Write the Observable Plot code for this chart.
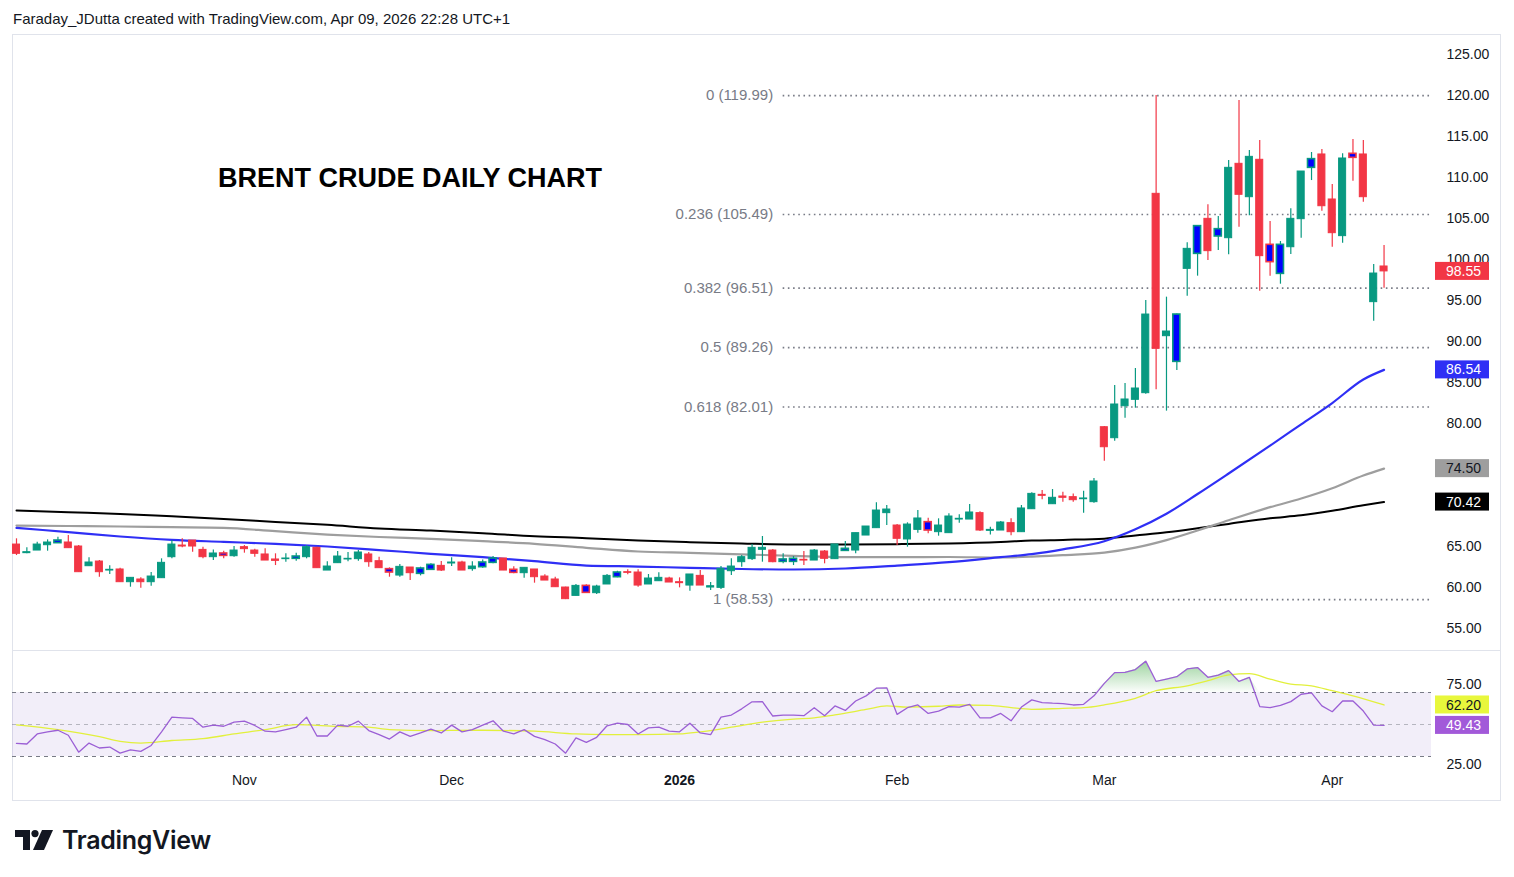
<!DOCTYPE html>
<html>
<head>
<meta charset="utf-8">
<script src="https://cdn.jsdelivr.net/npm/d3@7"></script>
<script src="https://cdn.jsdelivr.net/npm/@observablehq/plot@0.6"></script>
<style>
  body { margin: 0; background: #fff; font-family: "Liberation Sans", Arial, sans-serif; }
  #wrap { position: relative; width: 1514px; height: 877px; overflow: hidden; background: #fff; }
  #hdr { position: absolute; left: 13px; top: 10px; font-size: 15px; line-height: 18px; color: #131722; }
  #frame { position: absolute; left: 12px; top: 34px; width: 1489px; height: 767px; border: 1px solid #e0e3eb; box-sizing: border-box; }
  #sep { position: absolute; left: 12px; top: 650px; width: 1489px; height: 1px; background: #e0e3eb; }
  #main { position: absolute; left: 12px; top: 34px; }
  #rsi { position: absolute; left: 12px; top: 651px; }
  #title { position: absolute; left: 218px; top: 163px; font-size: 27px; line-height: 30px; font-weight: bold; color: #000; white-space: nowrap; }
  #logo { position: absolute; left: 15px; top: 825px; display: flex; align-items: center; gap: 9px; }
  #logo span { font-family: Inter, "Liberation Sans", sans-serif; font-weight: 600; font-size: 25px; color: #131722; letter-spacing: -0.3px; }
</style>
</head>
<body>
<svg width="0" height="0" style="position:absolute">
  <defs>
    <linearGradient id="rsiGrad" x1="0" y1="0" x2="0" y2="1">
      <stop offset="0%" stop-color="#4caf50" stop-opacity="0.55"></stop>
      <stop offset="100%" stop-color="#4caf50" stop-opacity="0.02"></stop>
    </linearGradient>
  </defs>
</svg>
<div id="wrap">
  <div id="hdr">Faraday_JDutta created with TradingView.com, Apr 09, 2026 22:28 UTC+1</div>
  <div id="frame"></div>
  <div id="main"></div>
  <div id="sep"></div>
  <div id="rsi"></div>
  <div id="title">BRENT CRUDE DAILY CHART</div>
  <div id="logo">
    <svg width="38" height="20" viewBox="0 0 38 20">
      <path d="M0 0H15V20H8V7H0Z" fill="#131722"></path>
      <circle cx="20" cy="3.6" r="3.6" fill="#131722"></circle>
      <path d="M27 0H38L29 20H18Z" fill="#131722"></path>
    </svg>
    <span>TradingView</span>
  </div>
</div>
<script>
// ---------- DATA ----------
const opens = [65.24,64.19,64.51,65.16,65.41,65.49,65.00,62.60,63.17,62.07,
 62.20,60.65,60.98,60.65,61.14,63.70,65.12,65.73,64.59,63.70,
 64.15,63.82,64.92,64.51,64.03,63.42,63.46,63.50,63.70,64.84,
 62.07,62.97,63.42,63.46,64.03,63.21,62.24,61.46,62.44,61.67,
 62.16,62.64,62.93,63.05,62.24,62.48,63.01,63.54,62.16,61.75,
 62.20,61.34,60.98,60.00,58.98,60.20,59.31,60.37,61.26,61.87,
 61.83,60.37,60.77,61.10,60.65,60.24,61.42,60.00,59.96,61.99,
 63.09,63.46,64.60,64.51,63.13,63.13,63.38,63.29,64.39,63.46,
 64.47,64.51,66.34,67.24,69.07,67.56,65.86,67.03,67.97,66.75,
 66.63,68.29,68.29,69.07,66.91,66.95,67.85,66.75,69.55,71.30,
 70.16,71.10,71.02,70.77,70.41,79.55,78.21,82.11,82.89,83.70,
 108.01,90.65,87.52,98.86,100.69,104.96,102.81,102.60,111.67,107.60,
 112.16,101.79,98.25,101.50,104.92,111.18,112.81,107.32,102.85,112.89,
 112.81,94.80,99.15];
const highs = [65.94,64.84,65.53,65.81,66.14,66.34,65.12,63.62,63.29,62.64,
 62.36,61.18,61.18,61.83,63.50,65.73,65.94,65.73,64.92,64.59,
 64.43,65.00,65.12,64.68,64.72,64.11,64.11,64.19,65.12,64.92,
 63.13,64.39,64.27,64.51,64.27,63.70,62.40,62.81,62.44,62.48,
 62.89,63.17,63.62,63.21,63.13,63.37,63.78,63.54,62.52,62.40,
 62.20,61.55,61.26,60.04,60.37,60.33,60.29,61.59,61.99,62.16,
 62.16,61.59,61.79,61.26,61.18,61.59,62.07,60.61,62.56,63.50,
 63.90,65.25,66.22,64.64,64.11,63.78,64.39,64.64,64.51,65.25,
 65.61,66.63,67.44,70.33,70.00,67.68,67.89,69.39,68.46,68.38,
 68.99,68.86,70.12,69.23,67.36,68.05,68.38,70.00,71.55,71.83,
 71.95,71.63,71.42,71.75,73.29,79.64,84.64,84.88,86.71,95.00,
 119.99,95.41,93.37,102.03,104.07,106.67,105.24,112.07,119.39,113.29,
 114.51,104.63,102.20,106.18,110.73,113.05,113.42,109.15,112.89,114.63,
 114.51,99.39,101.71];
const lows = [63.90,64.11,64.51,64.43,65.41,64.80,61.87,62.60,61.26,61.59,
 60.65,60.04,59.92,60.16,61.14,63.50,64.84,64.31,63.50,63.29,
 63.50,63.70,64.19,63.70,63.29,62.68,63.09,63.21,63.50,62.36,
 62.07,62.97,63.13,63.21,62.48,62.36,61.26,61.26,60.85,61.42,
 62.07,61.95,62.56,62.07,61.99,62.36,62.89,62.07,61.67,61.14,
 60.53,60.85,60.04,58.53,58.98,59.31,59.15,60.37,61.18,61.55,
 60.04,60.37,60.77,60.61,59.96,59.55,60.24,59.63,59.76,61.46,
 62.48,63.29,63.09,63.01,62.89,62.68,62.68,63.29,62.89,63.46,
 64.39,64.11,66.34,67.24,67.56,65.12,64.92,66.63,66.55,66.26,
 66.63,67.85,68.29,66.83,66.42,66.95,66.30,66.75,69.55,70.69,
 70.16,70.41,70.41,69.07,70.29,75.41,77.85,80.65,81.87,83.58,
 84.11,81.51,86.46,95.53,97.97,99.88,101.10,100.57,103.94,105.33,
 96.14,97.97,96.99,100.61,102.60,109.63,105.90,101.50,101.99,109.55,
 106.99,92.48,96.50];
const closes = [64.11,64.31,65.24,65.49,65.73,64.80,61.87,63.05,61.87,62.16,
 60.65,61.18,60.65,61.34,63.01,65.24,65.00,65.00,63.70,64.15,
 63.86,64.51,64.68,64.11,63.29,63.25,63.54,63.78,64.92,62.36,
 62.56,63.78,63.50,64.27,63.09,62.36,61.83,62.52,61.75,62.32,
 62.76,62.07,63.05,62.07,62.56,63.05,63.54,62.07,61.79,62.40,
 61.26,60.85,60.04,58.58,60.20,59.35,60.12,61.42,61.83,61.79,
 60.24,61.10,61.18,60.61,60.53,61.59,60.24,60.16,62.28,62.56,
 63.70,64.84,64.84,63.09,63.42,63.50,63.29,64.51,63.50,65.25,
 64.72,66.63,67.44,69.39,69.51,65.94,67.68,68.42,66.95,67.56,
 68.66,68.38,69.15,66.95,67.03,67.93,66.75,69.64,71.42,71.18,
 70.94,70.94,70.65,70.86,72.93,77.11,82.32,82.93,84.27,93.29,
 89.11,91.22,93.29,101.30,104.07,101.02,103.70,111.18,107.89,112.52,
 100.41,99.68,101.79,104.96,110.73,112.24,106.50,103.21,112.32,112.40,
 107.60,98.29,98.55];
// bars painted with a blue body in the reference
const blueBars = [4,20,27,36,39,40,45,46,48,55,58,74,75,80,88,112,114,116,121,122,125,129];

// moving averages, sampled along the picture
const maIdx  = [0,5,10,15,20,25,30,35,40,45,50,55,60,65,70,75,80,85,90,95,98,101,105,108,111,114,117,121,124,127,130,132];
const sma50  = [67.28,66.75,66.22,65.81,65.57,65.33,65.00,64.57,64.11,63.70,63.21,62.68,62.56,62.40,62.26,62.20,62.32,62.68,63.09,63.70,64.08,64.65,65.65,67.1,69.0,71.4,73.9,77.3,79.9,82.5,85.37,86.54];
const sma100 = [67.56,67.50,67.44,67.36,67.28,66.87,66.46,66.16,65.94,65.65,65.33,64.84,64.39,64.23,64.05,63.86,63.70,63.70,63.72,63.66,63.76,63.95,64.25,64.86,65.78,66.95,68.2,69.8,70.85,72.1,73.65,74.50];
const sma200 = [69.39,69.18,68.98,68.68,68.37,68.0,67.64,67.2,66.95,66.63,66.26,66.02,65.73,65.53,65.37,65.25,65.25,65.29,65.37,65.55,65.72,65.81,65.96,66.35,66.74,67.23,67.76,68.45,68.8,69.36,70.03,70.42];

// RSI per bar and its moving average (sampled)
const rsi = [38.2,37.8,44.1,45.4,46.4,43.3,32.7,38.4,35.3,35.9,
 32.1,34.2,33.2,36.9,45.4,54.6,54.2,53.8,48.3,49.6,
 48.9,51.5,52.1,49.4,45.8,45.4,46.8,48.3,54.6,42.8,
 42.8,49.6,48.9,52.1,46.2,43.7,40.9,45.4,42.6,44.7,
 47.1,44.7,49.6,45.4,46.8,49.6,52.3,45.8,44.1,46.8,
 42.6,40.5,37.8,32.1,41.6,38.8,42.0,49.2,50.8,50.0,
 44.1,47.9,48.3,45.8,45.4,50.8,44.7,43.7,54.6,55.9,
 59.8,64.2,64.3,55.3,55.9,55.9,55.5,60.5,55.5,61.6,
 58.8,64.7,67.9,72.7,72.9,56.3,60.5,62.2,56.9,58.4,
 61.2,60.9,62.6,54.2,54.2,56.9,52.3,60.9,65.4,63.7,
 63.3,63.1,62.2,62.6,67.9,75.7,82.4,82.6,84.3,89.6,
 76.9,78.4,79.9,84.7,85.6,79.5,80.9,83.7,76.9,79.5,
 61.2,60.5,62.0,64.3,68.9,69.8,61.6,58.0,64.7,64.7,
 58.4,49.6,49.43];
const rsiMaIdx = [0,4,8,10,12,15,18,21,24,27,31,34,36,40,45,50,54,57,60,64,66,69,72,75,77,79,82,84,86,89,91,94,96,98,101,103,105,108,110,113,115,117,119,121,123,125,127,129,132];
const rsiMaVal = [49.8,46.8,42.4,39.5,38.4,40.0,41.2,44.1,46.8,49.9,48.8,48.3,46.8,46.2,46.4,45.8,44.1,43.7,43.7,44.1,45.4,48.3,51.5,53.4,54.2,56.0,59.4,61.6,60.9,61.4,62.2,61.9,60.5,59.5,60.1,60.5,62.3,66.4,71.1,74.2,77.4,81.0,81.8,78.4,75.3,74.2,71.1,67.9,62.2];
const rsiLevels = [70, 50, 30];
const rsiTicks = [75, 25];

// Fibonacci retracement
const fibRatios = ["0", "0.236", "0.382", "0.5", "0.618", "1"];
const fibPrices = [119.99, 105.49, 96.51, 89.26, 82.01, 58.53];
const fibStartBar = 74;

// axes (70.00 and 75.00 are hidden behind the value tags in the reference)
const priceTicks = [55, 60, 65, 80, 85, 90, 95, 100, 105, 110, 115, 120, 125];
const monthBars = [22, 42, 64, 85, 105, 127];
const monthLabels = ["Nov", "Dec", "2026", "Feb", "Mar", "Apr"];
const yearLabel = "2026";

// ---------- BUILD ----------
const GREEN = "#089981", RED = "#f23645", BLUE = "#0000ff";
const candles = closes.map((c, i) => ({i, o: opens[i], h: highs[i], l: lows[i], c, blue: blueBars.includes(i)}));
const col = d => d.c >= d.o ? GREEN : RED;
const maData = maIdx.map((i, k) => ({i, a: sma50[k], b: sma100[k], c: sma200[k]}));
const rsiData = rsi.map((r, i) => ({i, r}));
const rsiMa = rsiMaIdx.map((i, k) => ({i, v: rsiMaVal[k]}));
const fib = fibPrices.map((p, k) => ({p, label: `${fibRatios[k]} (${p.toFixed(2)})`}));
const months = monthBars.map((i, k) => ({i, label: monthLabels[k]}));

const W = 1489, MR = 70;
const xDomain = [-0.386, 136.58];
const xMax = xDomain[1];
const style = {fontFamily: "'Liberation Sans', Arial, sans-serif", fontSize: "14px", color: "#131722", background: "transparent", overflow: "visible"};

const main = Plot.plot({
  width: W, height: 616,
  marginLeft: 0, marginRight: MR, marginTop: 0, marginBottom: 0,
  style,
  x: {domain: xDomain, axis: null},
  y: {domain: [52.32, 127.44], axis: null},
  marks: [
    Plot.ruleY(fib, {y: "p", x1: fibStartBar, x2: xMax, stroke: "#787b86", strokeWidth: 1.6, strokeDasharray: "1.6,3.6"}),
    Plot.text(fib, {x: fibStartBar, y: "p", text: "label", textAnchor: "end", dx: -10, fill: "#787b86", fontSize: 15}),
    Plot.line(maData, {x: "i", y: "c", stroke: "#000000", strokeWidth: 2, curve: "monotone-x"}),
    Plot.line(maData, {x: "i", y: "b", stroke: "#9e9e9e", strokeWidth: 2.2, curve: "monotone-x"}),
    Plot.line(maData, {x: "i", y: "a", stroke: "#2f2ff5", strokeWidth: 2.2, curve: "monotone-x"}),
    Plot.ruleX(candles, {x: "i", y1: "l", y2: "h", stroke: col, strokeWidth: 1.2}),
    Plot.rect(candles.filter(d => !d.blue), {x1: d => d.i - 0.34, x2: d => d.i + 0.34, y1: "o", y2: "c", fill: col, stroke: col, strokeWidth: 1}),
    Plot.rect(candles.filter(d => d.blue), {x1: d => d.i - 0.34, x2: d => d.i + 0.34, y1: "o", y2: "c", fill: BLUE, stroke: col, strokeWidth: 1.6}),
    Plot.axisY(priceTicks, {anchor: "right", tickSize: 0, tickPadding: 15, tickFormat: d => d.toFixed(2), fontSize: 14, fill: "#131722", label: null})
  ]
});
document.getElementById("main").appendChild(main);

const rsiPlot = Plot.plot({
  width: W, height: 150,
  marginLeft: 0, marginRight: MR, marginTop: 0, marginBottom: 31,
  style,
  x: {domain: xDomain, axis: null},
  y: {domain: [21.25, 95.625], axis: null},
  marks: [
    Plot.rect([rsiLevels], {x1: xDomain[0], x2: xMax, y1: d => d[2], y2: d => d[0], fill: "#7e57c2", fillOpacity: 0.1}),
    Plot.ruleY([rsiLevels[0], rsiLevels[2]], {stroke: "#787b86", strokeWidth: 1, strokeDasharray: "4,4"}),
    Plot.ruleY([rsiLevels[1]], {stroke: "#787b86", strokeOpacity: 0.5, strokeWidth: 1, strokeDasharray: "4,4"}),
    Plot.areaY(rsiData, {x: "i", y1: rsiLevels[0], y2: d => Math.max(d.r, rsiLevels[0]), fill: "url(#rsiGrad)"}),
    Plot.line(rsiMa, {x: "i", y: "v", stroke: "#e2f03c", strokeWidth: 1.3, curve: "monotone-x"}),
    Plot.line(rsiData, {x: "i", y: "r", stroke: "#9b5fd5", strokeWidth: 1.3}),
    Plot.axisY(rsiTicks, {anchor: "right", tickSize: 0, tickPadding: 15, tickFormat: d => d.toFixed(2), fontSize: 14, fill: "#131722", label: null}),
    Plot.text(months.filter(d => d.label !== yearLabel), {x: "i", text: "label", frameAnchor: "bottom", dy: 14, fontSize: 14, fill: "#131722"}),
    Plot.text(months.filter(d => d.label === yearLabel), {x: "i", text: "label", frameAnchor: "bottom", dy: 14, fontSize: 14, fontWeight: "bold", fill: "#131722"})
  ]
});
document.getElementById("rsi").appendChild(rsiPlot);

// value tags on the price scale, placed through the plots' scales
function addTags(chart, items) {
  const y = chart.scale("y"), x = chart.scale("x");
  const edge = x.range[1];
  const svg = d3.select(chart);
  for (const t of items) {
    const yy = y.apply(t.v);
    svg.append("rect").attr("x", edge + 4).attr("y", yy - 9).attr("width", 54).attr("height", 18).attr("fill", t.bg);
    svg.append("text").attr("x", edge + 15).attr("y", yy).attr("dy", "0.36em")
      .attr("text-anchor", "start")
      .attr("fill", t.fg).attr("font-size", 14).text(t.v.toFixed(2));
  }
}
addTags(main, [
  {v: closes[closes.length - 1], bg: RED, fg: "#ffffff"},
  {v: sma50[sma50.length - 1], bg: "#2f2ff5", fg: "#ffffff"},
  {v: sma100[sma100.length - 1], bg: "#9e9e9e", fg: "#131722"},
  {v: sma200[sma200.length - 1], bg: "#000000", fg: "#ffffff"}
]);
addTags(rsiPlot, [
  {v: rsiMaVal[rsiMaVal.length - 1], bg: "#e8f73c", fg: "#131722"},
  {v: rsi[rsi.length - 1], bg: "#a259d9", fg: "#ffffff"}
]);
</script>
</body>
</html>
